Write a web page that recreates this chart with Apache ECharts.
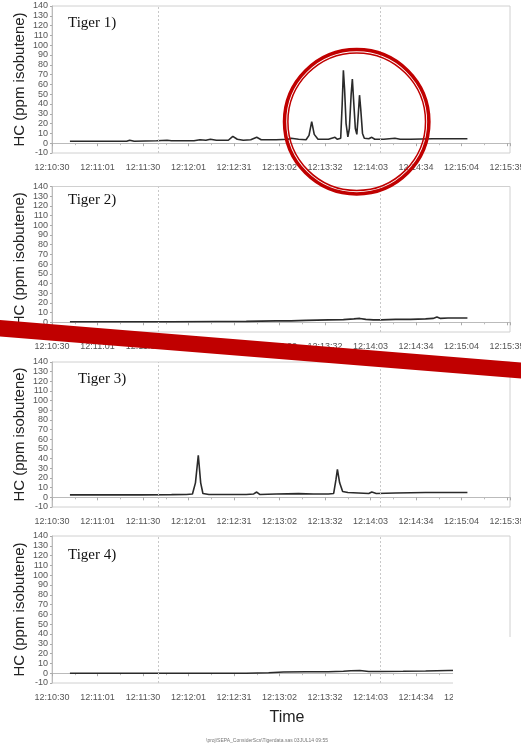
<!DOCTYPE html>
<html>
<head>
<meta charset="utf-8">
<script src="https://cdn.jsdelivr.net/npm/echarts@6/dist/echarts.min.js"></script>
<style>
html,body{margin:0;padding:0;background:#fff;}
#chart{width:521px;height:751px;}
</style>
</head>
<body>
<div id="chart"></div>
<script>
// Tick labels on the time axis (seconds after 12:10:30, one label per 30.45 s)
var timeTickLabels = ['12:10:30','12:11:01','12:11:30','12:12:01','12:12:31','12:13:02','12:13:32','12:14:03','12:14:34','12:15:04','12:15:35'];
var panelNames = ['Tiger 1)', 'Tiger 2)', 'Tiger 3)', 'Tiger 4)'];
var yTitle = 'HC (ppm isobutene)';
var refLineTimes = [71, 219.5];

// Tiger 1
var t1Time = [12, 30, 50, 52, 55, 70, 77, 80, 95, 99, 103, 106, 110, 118, 121, 124, 128, 133, 137, 140, 150, 158, 160, 165, 170, 172, 173.8, 175.5, 178, 185, 189.4, 191, 193.2, 194.2, 195, 195.8, 196.8, 198, 199, 200.2, 201, 201.8, 203, 204, 205, 205.8, 206.6, 207.8, 209, 212, 214, 216, 222, 229.5, 233, 240, 255, 278];
var t1Value = [2, 2, 2, 3, 2, 2.5, 3, 2.5, 2.5, 3.5, 3, 4, 3, 3, 7, 4, 3, 3.5, 6, 3.5, 3.5, 4, 5, 4, 3.5, 8, 22, 9, 4, 4, 6, 4, 5, 40, 74.5, 55, 20, 6.5, 15, 50, 65.5, 45, 15, 9, 30, 49, 35, 10, 5, 4.5, 6, 4, 4, 5, 4, 4, 4.5, 4.5];
// Tiger 2
var t2Time = [12, 40, 80, 110, 130, 150, 160, 170, 185, 195, 202, 206, 210, 215, 220, 230, 240, 250, 255, 257.6, 260, 265, 278];
var t2Value = [0.5, 0.5, 0.5, 0.8, 1, 1.5, 1.5, 2, 2.5, 2.8, 3.5, 4, 3, 2.5, 2.5, 3, 3, 3.5, 4, 5.5, 4, 4.5, 4.5];
// Tiger 3
var t3Time = [12, 40, 60, 80, 90, 94, 96, 97.9, 99.5, 101, 105, 120, 130, 135, 137, 139, 150, 165, 175, 185, 188.5, 190, 191, 192.5, 194.5, 198, 205, 212, 214, 217, 230, 250, 265, 278];
var t3Value = [2.5, 2.5, 2.5, 2.8, 3, 3.5, 15, 43.5, 15, 4, 3, 3, 3, 3.5, 5.5, 3, 3.5, 3.8, 3.5, 3.5, 4, 18, 29, 15, 6, 5, 4.5, 4, 5.5, 4, 4.5, 5, 5, 5];
// Tiger 4
var t4Time = [12, 40, 80, 110, 130, 145, 155, 170, 185, 195, 200, 206, 212, 220, 235, 250, 265, 278];
var t4Value = [0, 0, 0, 0, 0, 0.5, 1.2, 1.5, 1.5, 2, 2.5, 2.8, 1.8, 1.8, 2, 2.3, 2.8, 3];

var yMin = -10, yMax = 140, yStep = 10;
var xStep = 30.45, xMax = 306.5;

function pairs(ts, vs){ return ts.map(function(t,i){ return [t, vs[i]]; }); }
var allData = [pairs(t1Time,t1Value), pairs(t2Time,t2Value), pairs(t3Time,t3Value), pairs(t4Time,t4Value)];

var gridBoxes = [
  {top: 6, height: 147},
  {top: 186.5, height: 145.5},
  {top: 362, height: 145},
  {top: 536, height: 147}
];
var nameTops = [25, 201.5, 380.5, 556.5];
var nameLefts = [68, 68, 78, 68];

var grids = [], xAxes = [], yAxes = [], series = [], graphics = [];
gridBoxes.forEach(function(b, i){
  grids.push({left: 52, width: 458, top: b.top, height: b.height, outerBoundsMode: 'none', containLabel: false, show: true, borderColor: '#d0d0d0', borderWidth: 1, backgroundColor: '#fff'});
  xAxes.push({
    type: 'value', gridIndex: i, min: 0, max: xMax, interval: xStep,
    axisLine: {show: true, lineStyle: {color: '#bbb'}},
    axisTick: {show: true, length: 3, lineStyle: {color: '#aaa'}},
    minorTick: {show: true, splitNumber: 2, length: 2, lineStyle: {color: '#bbb'}},
    splitLine: {show: false},
    axisLabel: {
      fontSize: 9, color: '#555', margin: 10, fontFamily: 'Liberation Sans, Arial', hideOverlap: false,
      formatter: function(v){
        var k = Math.round(v / xStep);
        if (Math.abs(v - k * xStep) > 0.5) return '';
        return timeTickLabels[k] || '';
      }
    }
  });
  yAxes.push({
    type: 'value', gridIndex: i, min: yMin, max: yMax, interval: yStep,
    axisLine: {show: true, lineStyle: {color: '#bbb'}},
    axisTick: {show: true, length: 2, lineStyle: {color: '#aaa'}},
    splitLine: {show: false},
    axisLabel: {fontSize: 9, color: '#555', margin: 4, fontFamily: 'Liberation Sans, Arial'}
  });
  series.push({
    type: 'line', xAxisIndex: i, yAxisIndex: i, data: allData[i],
    showSymbol: false, symbol: 'none', smooth: false,
    lineStyle: {color: '#2a2a2a', width: 1.6},
    animation: false,
    markLine: {
      silent: true, symbol: 'none', label: {show: false},
      lineStyle: {color: '#c8c8c8', type: [2, 2], width: 1},
      data: refLineTimes.map(function(t){ return {xAxis: t}; })
    }
  });
  graphics.push({
    type: 'text', left: nameLefts[i], top: nameTops[i] - 9, z: 50,
    style: {text: panelNames[i], fontSize: 15, fontFamily: 'Liberation Serif, Times New Roman', fill: '#111', fontWeight: 'normal'}
  });
  graphics.push({
    type: 'text', x: 20, y: b.top + b.height / 2, rotation: Math.PI / 2, z: 50,
    style: {text: yTitle, fontSize: 15, fontFamily: 'Liberation Sans, Arial', fill: '#222', align: 'center', verticalAlign: 'middle'}
  });
});

// cropped lower-right corner of the last panel
graphics.push({type: 'rect', shape: {x: 453, y: 637, width: 70, height: 75}, style: {fill: '#fff'}, z: 40});
// axis title and footer
graphics.push({type: 'text', x: 287, y: 718, z: 50, style: {text: 'Time', fontSize: 16, fontFamily: 'Liberation Sans, Arial', fill: '#222', align: 'center', verticalAlign: 'middle'}});
graphics.push({type: 'text', x: 267, y: 741, z: 50, style: {text: '\\proj\\SEPA_ConsiderScs\\Tigerdata.sas 03JUL14 09:55', fontSize: 5, fontFamily: 'Liberation Sans, Arial', fill: '#777', align: 'center', verticalAlign: 'middle'}});
// red annotations
graphics.push({type: 'circle', shape: {cx: 356.7, cy: 121.7, r: 72.2}, style: {fill: null, stroke: '#c00000', lineWidth: 3.5}, z: 60});
graphics.push({type: 'circle', shape: {cx: 356.7, cy: 121.7, r: 68.8}, style: {fill: null, stroke: '#c00000', lineWidth: 1.5}, z: 60});
graphics.push({type: 'polygon', shape: {points: [[0, 320], [521, 362.5], [521, 378.5], [0, 336.5]]}, style: {fill: '#c00000'}, z: 60});

var chart = echarts.init(document.getElementById('chart'), null, {renderer: 'canvas'});
chart.setOption({
  animation: false,
  backgroundColor: '#fff',
  grid: grids, xAxis: xAxes, yAxis: yAxes, series: series, graphic: graphics
});
</script>
</body>
</html>
